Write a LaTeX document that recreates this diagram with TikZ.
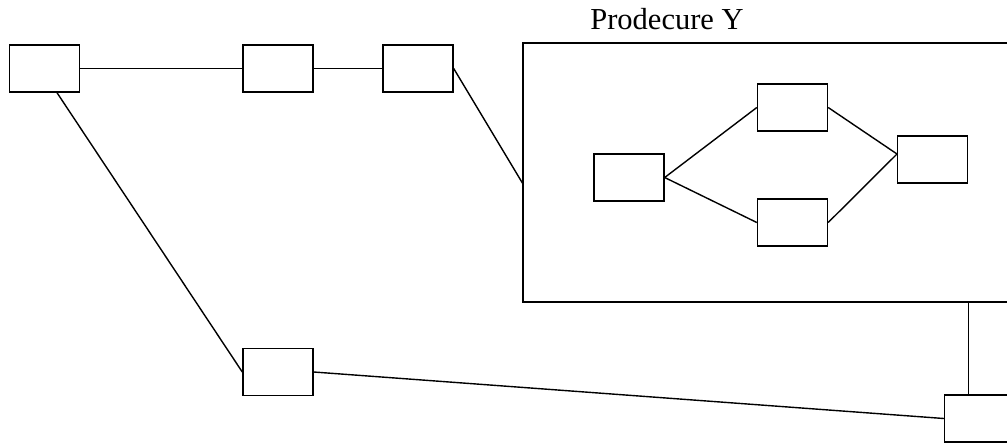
\documentclass[tikz,border=0pt]{standalone}
\usepackage{fontspec}
\setmainfont{Liberation Serif}
\usetikzlibrary{calc}
\begin{document}
\begin{tikzpicture}[x=1pt,y=-1pt,
  box/.style={draw=black,line width=1.4pt,minimum width=70pt,minimum height=47pt,inner sep=0pt,fill=white},
  link/.style={draw=black,line width=1.4pt}]
\useasboundingbox (0,0) rectangle (1007,442);
\clip (0,0) rectangle (1007,442);
\fill[white] (0,0) rectangle (1007,442);
% outer procedure box
\node[draw=black,line width=1.4pt,minimum width=507pt,minimum height=259pt,inner sep=0pt] (Y) at (776.5,172.5) {};
\node[anchor=base,font=\fontsize{30.5}{36}\selectfont,inner sep=0pt] (title) at (667,29) {Prodecure Y};
% outer boxes
\node[box] (A) at (44.5,68.5) {};
\node[box] (B) at (278,68.5) {};
\node[box] (C) at (418,68.5) {};
\node[box] (E) at (278,372) {};
\node[box] (F) at (979.5,418.5) {};
% inner boxes
\node[box] (P1) at (629,177.5) {};
\node[box] (P2) at (792.5,107.5) {};
\node[box] (P3) at (792.5,222.5) {};
\node[box] (P4) at (932.5,159.5) {};
% connection points
\coordinate (aout) at ($(A.south)+(12.5,0)$);
\coordinate (yin) at (523,184);
\coordinate (p4in) at (897,154);
\coordinate (yout) at (968.5,302);
% connectors
\draw[link] (A.east) -- (B.west);
\draw[link] (B.east) -- (C.west);
\draw[link] (C.east) -- (yin);
\draw[link] (aout) -- (E.west);
\draw[link] (E.east) -- (F.west);
\draw[link] (yout) -- (yout |- F.north);
\draw[link] (P1.east) -- (P2.west);
\draw[link] (P1.east) -- (P3.west);
\draw[link] (P2.east) -- (p4in);
\draw[link] (P3.east) -- (p4in);
\end{tikzpicture}
\end{document}
